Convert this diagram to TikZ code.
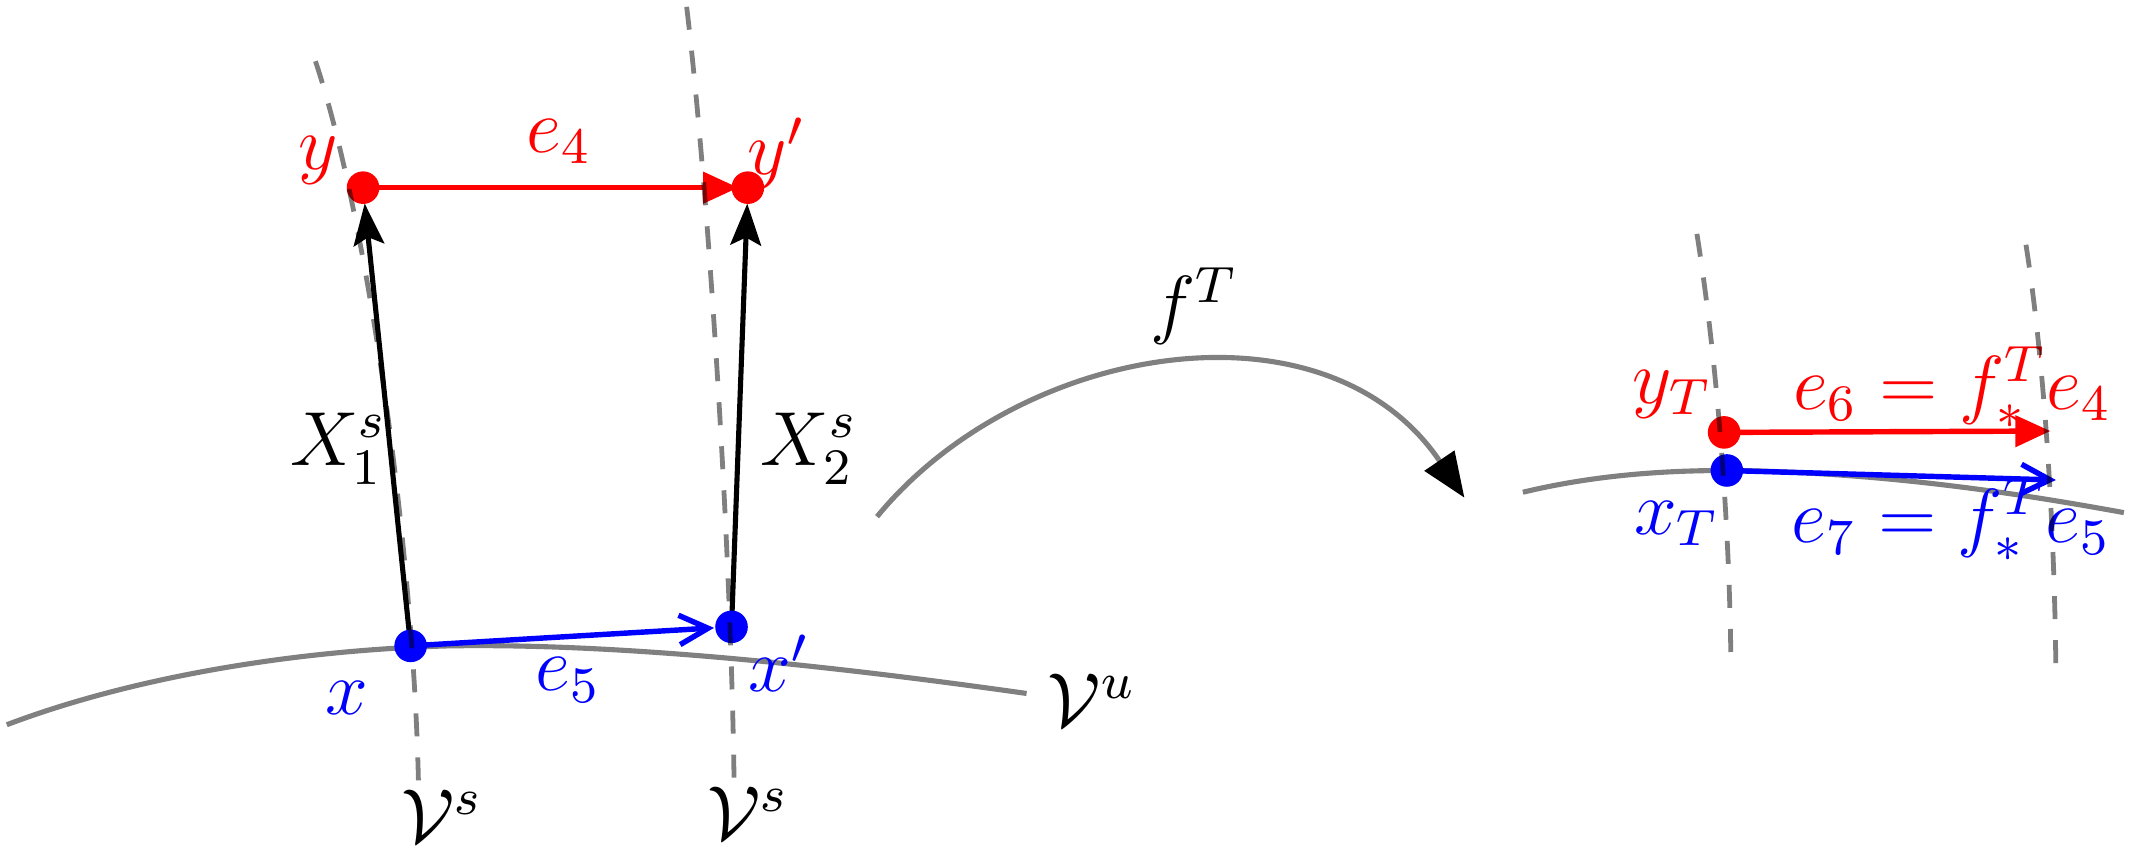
\documentclass[tikz,border=0pt]{standalone}
\usetikzlibrary{arrows.meta}
\pgfdeclarelayer{bg}
\pgfdeclarelayer{fg}
\pgfsetlayers{bg,main,fg}
\begin{document}
\begin{tikzpicture}[x=0.2128pt,y=-0.2128pt,
  dot/.style={circle,inner sep=0pt,minimum size=5.1pt},
  mfd/.style={draw=gray,line width=0.8pt},
  fol/.style={draw=black,draw opacity=0.5,line width=0.75pt,dash pattern=on 3.6pt off 3.3pt},
  lab/.style={inner sep=0pt,font=\fontsize{12pt}{14pt}\selectfont},
  redarr/.style={red,line width=0.85pt,-{Triangle[length=5.5pt,width=4.8pt]}},
  bluearr/.style={blue,line width=0.85pt,-{Straight Barb[length=4.5pt,width=4.6pt]}},
  blkarr/.style={black,line width=0.8pt,-{Stealth[length=6.5pt,width=4.8pt,inset=1.2pt]}}]
\useasboundingbox (0,0) rectangle (1568,629.6);
% points
\node[dot,fill=red] (y) at (267,138) {};
\node[dot,fill=red] (yp) at (550,138) {};
\node[dot,fill=blue] (x) at (302,475) {};
\node[dot,fill=blue] (xp) at (538,461) {};
\node[dot,fill=red] (yT) at (1268,318) {};
\node[dot,fill=blue] (xT) at (1270,346) {};
\coordinate (e6end) at (1508,317);
\coordinate (e7end) at (1512,353);
\begin{pgfonlayer}{bg}
% unstable manifolds
\draw[mfd] (5,533) .. controls (100,497) and (220,478) .. (330,475) .. controls (450,473) and (600,488) .. (755,510);
\draw[mfd] (1120,362) .. controls (1170,350) and (1220,346) .. (1270,346) .. controls (1380,347) and (1480,362) .. (1562,377);
% vectors
\draw[redarr,shorten >=1.5pt] (y.center) -- (yp.center);
\draw[blkarr,shorten >=2.5pt] (x.center) -- (y.center);
\draw[blkarr,shorten >=2.5pt] (xp.center) -- (yp.center);
\draw[bluearr] (x.center) -- (xp);
\draw[redarr] (yT.center) -- (e6end);
\draw[bluearr] (xT.center) -- (e7end);
\end{pgfonlayer}
% map arrow
\coordinate (fs) at (645,380);
\coordinate (fe) at (1077,366);
\draw[gray,line width=0.8pt,-{Triangle[length=7pt,width=5.5pt,color=black]}] (fs) .. controls (750,252) and (975,215) .. (fe);
\begin{pgfonlayer}{fg}
% stable leaves (dashed)
\draw[fol] (232,45) .. controls (272,165) and (306,420) .. (308,590);
\draw[fol] (505,5) .. controls (520,130) and (538,400) .. (540,585);
\draw[fol] (1248,172) .. controls (1262,260) and (1272,380) .. (1273,488);
\draw[fol] (1490,180) .. controls (1504,270) and (1511,390) .. (1512,493);
\end{pgfonlayer}
% labels
\node[lab,red] (ly) at (234,118) {$y$};
\node[lab,red] (lyp) at (571,113) {$y'$};
\node[lab,red] (le4) at (411,104) {$e_4$};
\node[lab,blue] (lx) at (255,513) {$x$};
\node[lab,blue] (lxp) at (573,488) {$x'$};
\node[lab,blue] (le5) at (418,500) {$e_5$};
\node[lab] (lX1) at (249,330) {$X_1^s$};
\node[lab] (lX2) at (595,330) {$X_2^s$};
\node[lab] (lVs1) at (325,600) {$\mathcal{V}^s$};
\node[lab] (lVs2) at (550,598) {$\mathcal{V}^s$};
\node[lab] (lVu) at (803,515) {$\mathcal{V}^u$};
\node[lab] (lf) at (878,225) {$f^T$};
\node[lab,red] (lyT) at (1230,290) {$y_T$};
\node[lab,red] (le6) at (1436,285) {$e_6=f^T_*e_4$};
\node[lab,blue] (lxT) at (1233,385) {$x_T$};
\node[lab,blue] (le7) at (1435,383) {$e_7=f^T_*e_5$};
\end{tikzpicture}
\end{document}
